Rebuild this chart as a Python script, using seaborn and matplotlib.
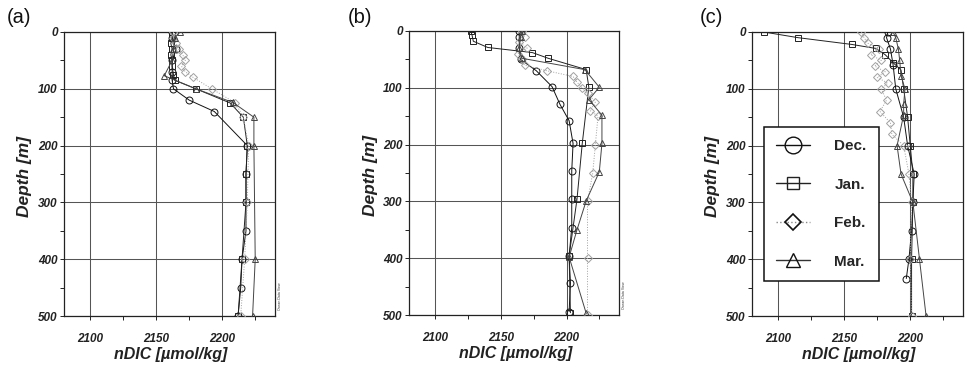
import matplotlib
matplotlib.use("Agg")
import matplotlib.pyplot as plt
from matplotlib.lines import Line2D
from matplotlib.ticker import MultipleLocator
import seaborn as sns

sns.set_style("ticks")
plt.rcParams['font.family'] = ['Liberation Sans', 'DejaVu Sans']

months = ["Dec.", "Jan.", "Feb.", "Mar."]
panel_labels = ["(a)", "(b)", "(c)"]
x_ticks = [2100, 2150, 2200]
y_ticks = [0, 100, 200, 300, 400, 500]

# ---------------- panel (a) ----------------
a_dec_depth = [0, 10, 30, 50, 70, 85, 100, 120, 140, 200, 250, 300, 350, 400, 450, 500]
a_dec_dic = [2162, 2162, 2165, 2162, 2162, 2162, 2163, 2175, 2194, 2219, 2218, 2218, 2218, 2215, 2214, 2212]
a_jan_depth = [0, 10, 20, 30, 40, 50, 60, 75, 85, 100, 125, 150, 200, 250, 300, 400, 500]
a_jan_dic = [2162, 2162, 2161, 2162, 2161, 2162, 2162, 2163, 2164, 2180, 2206, 2216, 2219, 2218, 2218, 2215, 2212]
a_feb_depth = [0, 10, 20, 30, 40, 50, 60, 70, 80, 100, 125, 150, 200, 300, 400, 500]
a_feb_dic = [2163, 2163, 2165, 2167, 2170, 2172, 2169, 2172, 2178, 2192, 2210, 2216, 2220, 2219, 2217, 2214]
a_mar_depth = [0, 10, 30, 50, 77, 100, 124, 150, 200, 400, 500]
a_mar_dic = [2168, 2164, 2163, 2162, 2156, 2180, 2208, 2224, 2224, 2225, 2223]

# ---------------- panel (b) ----------------
b_dec_depth = [0, 10, 30, 50, 70, 98, 129, 158, 198, 246, 296, 346, 396, 444, 494]
b_dec_dic = [2164, 2164, 2164, 2165, 2177, 2189, 2195, 2202, 2205, 2204, 2204, 2204, 2202, 2203, 2202]
b_jan_depth = [0, 7, 18, 29, 38, 48, 68, 99, 198, 296, 396, 496]
b_jan_dic = [2127, 2128, 2129, 2140, 2174, 2186, 2215, 2217, 2212, 2208, 2202, 2203]
b_feb_depth = [0, 10, 20, 30, 40, 50, 60, 70, 80, 90, 100, 110, 125, 140, 150, 200, 250, 300, 400, 500]
b_feb_dic = [2166, 2168, 2164, 2170, 2163, 2166, 2168, 2185, 2205, 2208, 2212, 2216, 2222, 2218, 2224, 2222, 2220, 2216, 2216, 2216]
b_mar_depth = [0, 10, 30, 48, 68, 99, 121, 148, 198, 248, 299, 350, 398, 497]
b_mar_dic = [2166, 2165, 2164, 2166, 2214, 2225, 2217, 2227, 2227, 2225, 2215, 2208, 2202, 2215]

# ---------------- panel (c) ----------------
c_dec_depth = [0, 10, 30, 58, 100, 150, 200, 250, 300, 350, 400, 434]
c_dec_dic = [2183, 2182, 2185, 2187, 2189, 2195, 2198, 2203, 2202, 2201, 2199, 2197]
c_jan_depth = [0, 10, 22, 29, 40, 54, 67, 100, 150, 200, 250, 300, 400, 500]
c_jan_dic = [2089, 2115, 2156, 2174, 2181, 2187, 2193, 2195, 2198, 2200, 2202, 2202, 2201, 2201]
c_feb_depth = [0, 10, 20, 30, 40, 50, 60, 70, 80, 90, 100, 120, 140, 160, 180, 200, 250, 300, 400, 500]
c_feb_dic = [2163, 2165, 2168, 2176, 2170, 2178, 2173, 2181, 2175, 2183, 2178, 2182, 2177, 2185, 2186, 2195, 2199, 2201, 2200, 2201]
c_mar_depth = [0, 10, 30, 50, 77, 100, 127, 146, 200, 250, 300, 400, 500]
c_mar_dic = [2187, 2189, 2191, 2192, 2193, 2196, 2195, 2195, 2190, 2193, 2202, 2207, 2212]

panels = [
    [(a_dec_dic, a_dec_depth), (a_jan_dic, a_jan_depth), (a_feb_dic, a_feb_depth), (a_mar_dic, a_mar_depth)],
    [(b_dec_dic, b_dec_depth), (b_jan_dic, b_jan_depth), (b_feb_dic, b_feb_depth), (b_mar_dic, b_mar_depth)],
    [(c_dec_dic, c_dec_depth), (c_jan_dic, c_jan_depth), (c_feb_dic, c_feb_depth), (c_mar_dic, c_mar_depth)],
]

styles = {
    "Dec.": dict(color="#111111", ls="-", marker="o", ms=5.0),
    "Jan.": dict(color="#222222", ls="-", marker="s", ms=4.5),
    "Feb.": dict(color="#a0a0a0", ls=":", marker="D", ms=3.6),
    "Mar.": dict(color="#444444", ls="-", marker="^", ms=5.0),
}

W, H = 965, 370
fig = plt.figure(figsize=(W / 100, H / 100), dpi=100)

ax_px = [(64, 32, 275, 316), (409, 31, 619, 315), (752, 32, 963, 316)]
label_px = [(7, 8), (348, 8), (700, 8)]

tick_font = dict(family='Liberation Sans', weight='bold', style='italic', size=8.5)

for i, (x0, y0, x1, y1) in enumerate(ax_px):
    ax = fig.add_axes([x0 / W, 1 - y1 / H, (x1 - x0) / W, (y1 - y0) / H])
    for m, (vals, deps) in zip(months, panels[i]):
        st = styles[m]
        sns.lineplot(x=vals, y=deps, ax=ax, sort=False, estimator=None,
                     color=st["color"], linestyle=st["ls"], lw=0.7,
                     marker=st["marker"], markersize=st["ms"],
                     markerfacecolor='none', markeredgecolor=st["color"],
                     markeredgewidth=0.7, legend=False, zorder=3)
    ax.set_xlim(2080, 2240)
    ax.set_ylim(500, 0)
    ax.set_xticks(x_ticks)
    ax.set_yticks(y_ticks)
    ax.xaxis.set_minor_locator(MultipleLocator(25))
    ax.yaxis.set_minor_locator(MultipleLocator(50))
    ax.set_xticklabels([str(t) for t in x_ticks], fontdict=tick_font)
    ax.set_yticklabels([str(t) for t in y_ticks], fontdict=tick_font)
    ax.tick_params(axis='x', which='both', direction='out', length=3, width=0.7, pad=9, colors='#222222')
    ax.tick_params(axis='y', which='both', direction='out', length=3, width=0.7, pad=1.5, colors='#222222')
    ax.grid(True, which='major', color='#555555', lw=0.75, ls='-')
    for sp in ax.spines.values():
        sp.set_visible(True)
        sp.set_color('#222222')
        sp.set_linewidth(0.9)
    ax.set_xlabel("nDIC [µmol/kg]", fontsize=11.5, fontweight='bold', fontstyle='italic',
                  color='#222222')
    ax.xaxis.set_label_coords(0.507, -0.11)
    ax.set_ylabel("Depth [m]", fontsize=12.5, fontweight='bold', fontstyle='italic',
                  color='#222222')
    ax.yaxis.set_label_coords(-0.15, 0.49)
    lx, ly = label_px[i]
    fig.text(lx / W, 1 - ly / H, panel_labels[i], fontsize=14.5, ha='left', va='top',
             color='#111111')
    if i < 2:
        ax.text(1.012, 0.02, "Ocean Data View", transform=ax.transAxes, rotation=90,
                fontsize=2.5, ha='left', va='bottom', color='#333333')
    if i == 2:
        handles = [
            Line2D([], [], color='#111111', ls='-', lw=1.0, marker='o', markersize=12,
                   markerfacecolor='none', markeredgecolor='#111111', markeredgewidth=1.0),
            Line2D([], [], color='#222222', ls='-', lw=1.0, marker='s', markersize=8,
                   markerfacecolor='none', markeredgecolor='#222222', markeredgewidth=1.0),
            Line2D([], [], color='#888888', ls=':', lw=1.0, marker='D', markersize=8,
                   markerfacecolor='none', markeredgecolor='#111111', markeredgewidth=1.2),
            Line2D([], [], color='#333333', ls='-', lw=1.0, marker='^', markersize=10,
                   markerfacecolor='none', markeredgecolor='#111111', markeredgewidth=1.0),
        ]
        leg = ax.legend(handles, months, loc='upper left', bbox_to_anchor=(0.057, 0.665),
                        borderaxespad=0, frameon=True, fancybox=False, framealpha=1,
                        edgecolor='#111111', handlelength=2.2, handletextpad=1.6,
                        labelspacing=1.6, borderpad=0.8,
                        prop=dict(family='Liberation Sans', weight='bold', size=11))
        leg.get_frame().set_linewidth(1.1)
        leg.set_zorder(5)

fig.savefig("out.png", dpi=100)
